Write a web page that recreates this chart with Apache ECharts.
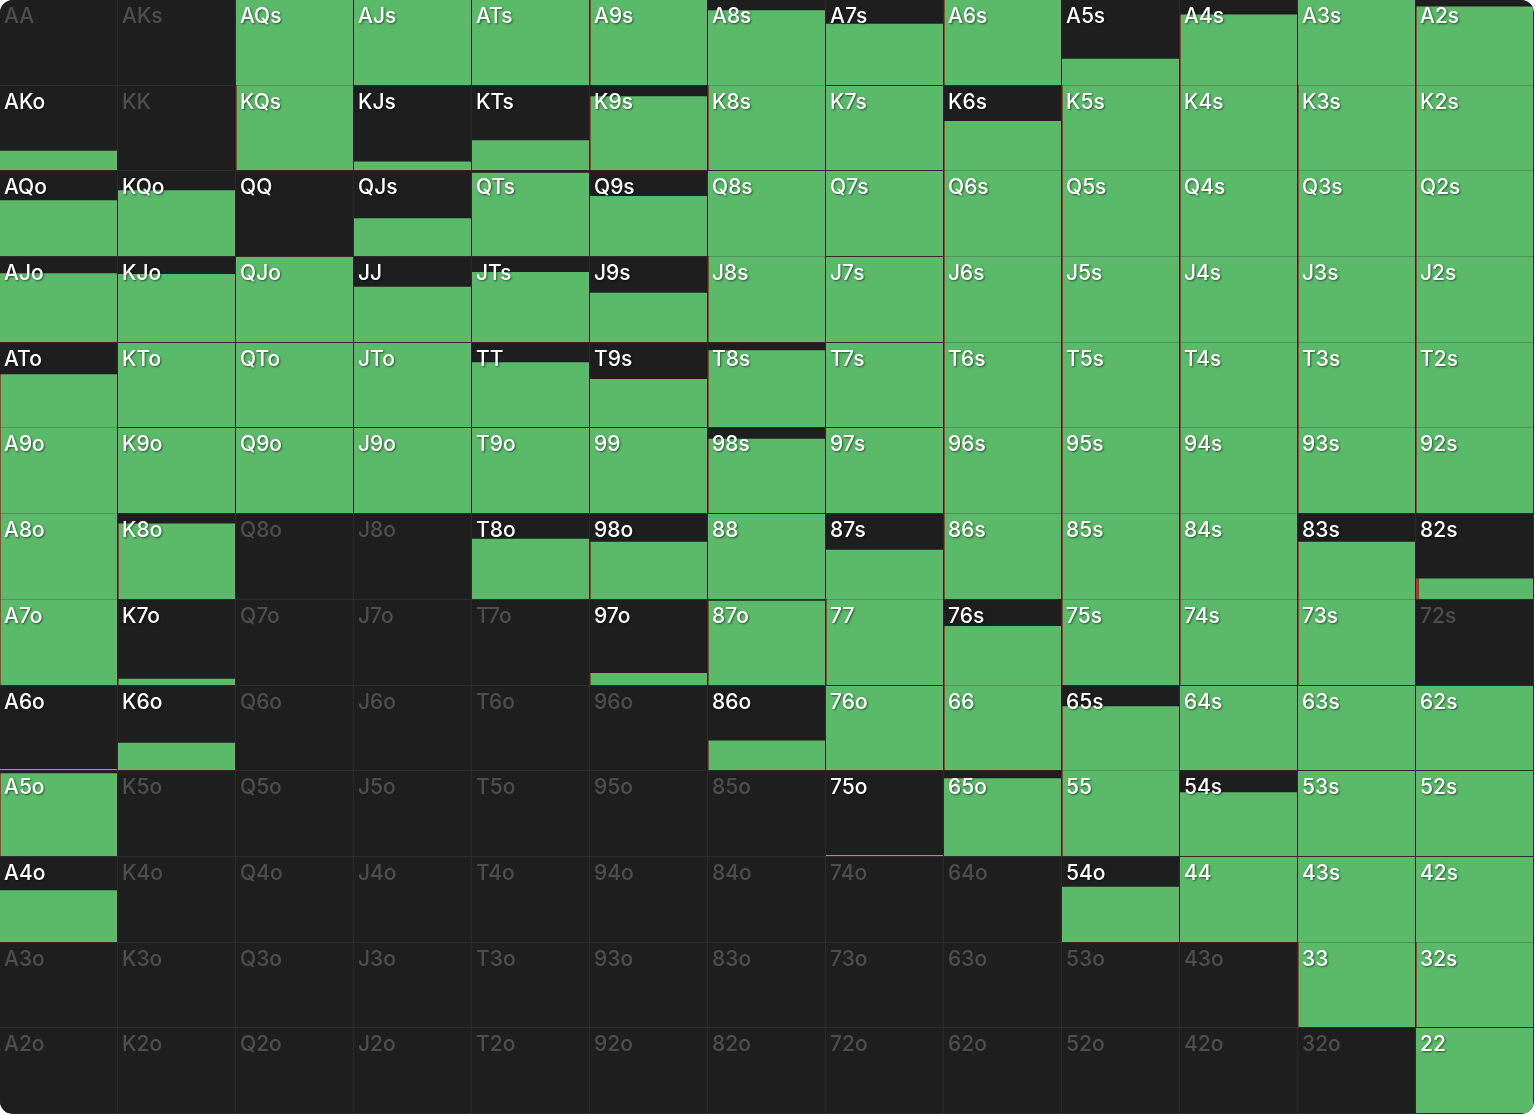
<!DOCTYPE html>
<html>
<head>
<meta charset="utf-8">
<script src="https://cdn.jsdelivr.net/npm/echarts@6/dist/echarts.min.js"></script>
<style>
  html, body { margin: 0; padding: 0; background: #ffffff; }
  #wrap { width: 1534px; height: 1114px; border-radius: 13px; overflow: hidden; background: #2a2a2a; }
  #chart { width: 1534px; height: 1114px; }
</style>
</head>
<body>
<div id="wrap"><div id="chart"></div></div>
<script>
// Rank order (rows and columns)
const ranks = ['A', 'K', 'Q', 'J', 'T', '9', '8', '7', '6', '5', '4', '3', '2'];

// Call (green) frequency per cell, row by row
const callRowA = [0, 0, 1, 1, 1, 1, 0.88, 0.72, 1, 0.31, 0.82, 1, 0.915];
const callRowK = [0.23, 0, 1, 0.10, 0.355, 0.87, 1, 1, 0.575, 1, 1, 1, 1];
const callRowQ = [0.655, 0.775, 0.002, 0.445, 0.98, 0.705, 1, 1, 1, 1, 1, 1, 1];
const callRowJ = [0.81, 0.80, 1, 0.65, 0.825, 0.58, 1, 1, 1, 1, 1, 1, 1];
const callRowT = [0.62, 1, 1, 1, 0.77, 0.57, 0.905, 1, 1, 1, 1, 1, 1];
const callRow9 = [1, 1, 1, 1, 1, 1, 0.865, 1, 1, 1, 1, 1, 1];
const callRow8 = [1, 0.88, 0, 0, 0.71, 0.665, 1, 0.578, 1, 1, 1, 0.665, 0.217];
const callRow7 = [1, 0.066, 0, 0, 0, 0.132, 0.984, 1, 0.686, 1, 1, 1, 0];
const callRow6 = [0.012, 0.324, 0, 0, 0, 0, 0.344, 1, 1, 0.75, 1, 1, 1];
const callRow5 = [0.967, 0, 0, 0, 0, 0, 0, 0.012, 0.915, 1, 0.75, 1, 1];
const callRow4 = [0.61, 0, 0, 0, 0, 0, 0, 0, 0, 0.65, 1, 1, 1];
const callRow3 = [0, 0, 0, 0, 0, 0, 0, 0, 0, 0, 0, 1, 1];
const callRow2 = [0, 0, 0, 0, 0, 0, 0, 0, 0, 0, 0, 0, 1];

// Raise (red) share of the filled part, row by row
const raiseRowA = [0, 0, 0, 0, 0, 0.008, 0, 0, 0.008, 0, 0.008, 0, 0.008];
const raiseRowK = [0, 0, 0.008, 0, 0, 0.008, 0.008, 0, 0.008, 0.008, 0.008, 0.008, 0.008];
const raiseRowQ = [0, 0, 0, 0, 0, 0, 0, 0, 0.008, 0.008, 0.008, 0.008, 0.008];
const raiseRowJ = [0, 0, 0, 0, 0, 0, 0.008, 0, 0.008, 0.008, 0.008, 0.008, 0.008];
const raiseRowT = [0.008, 0, 0, 0, 0, 0, 0.008, 0, 0.008, 0.008, 0.008, 0.008, 0.008];
const raiseRow9 = [0.008, 0, 0, 0, 0, 0, 0.008, 0, 0.008, 0.008, 0.008, 0.008, 0.008];
const raiseRow8 = [0.008, 0.008, 0, 0, 0, 0.008, 0, 0, 0.008, 0.008, 0.008, 0.008, 0.025];
const raiseRow7 = [0.008, 0.008, 0, 0, 0, 0.008, 0.008, 0.008, 0.008, 0.008, 0.008, 0.008, 0];
const raiseRow6 = [0, 0, 0, 0, 0, 0, 0.008, 0, 0.008, 0.008, 0, 0, 0];
const raiseRow5 = [0.008, 0, 0, 0, 0, 0, 0, 0, 0, 0.008, 0, 0, 0];
const raiseRow4 = [0, 0, 0, 0, 0, 0, 0, 0, 0, 0, 0, 0, 0];
const raiseRow3 = [0, 0, 0, 0, 0, 0, 0, 0, 0, 0, 0, 0.008, 0.008];
const raiseRow2 = [0, 0, 0, 0, 0, 0, 0, 0, 0, 0, 0, 0, 0];

const callFreq = [callRowA, callRowK, callRowQ, callRowJ, callRowT, callRow9, callRow8,
                  callRow7, callRow6, callRow5, callRow4, callRow3, callRow2];
const raiseFreq = [raiseRowA, raiseRowK, raiseRowQ, raiseRowJ, raiseRowT, raiseRow9, raiseRow8,
                   raiseRow7, raiseRow6, raiseRow5, raiseRow4, raiseRow3, raiseRow2];

function handLabel(r, c) {
  if (r === c) return ranks[r] + ranks[c];
  if (c > r) return ranks[r] + ranks[c] + 's';
  return ranks[c] + ranks[r] + 'o';
}

const data = [];
const labels = [];
for (let r = 0; r < 13; r++) {
  for (let c = 0; c < 13; c++) {
    data.push([c, r, callFreq[r][c], raiseFreq[r][c]]);
    labels.push(handLabel(r, c));
  }
}

const GREEN = '#5bb96a';
const DARK = '#1e1e1e';
const RED = '#b8322e';

const chart = echarts.init(document.getElementById('chart'), null, { renderer: 'canvas' });
chart.setOption({
  animation: false,
  backgroundColor: 'transparent',
  grid: { left: 0, right: 0, top: 0, bottom: 0 },
  xAxis: { type: 'value', min: 0, max: 13, show: false },
  yAxis: { type: 'value', min: 0, max: 13, inverse: true, show: false },
  series: [{
    type: 'custom',
    clip: false,
    data: data,
    renderItem: function (params, api) {
      const c = api.value(0), r = api.value(1);
      const call = api.value(2), raise = api.value(3);
      const p0 = api.coord([c, r]);
      const p1 = api.coord([c + 1, r + 1]);
      const x0 = Math.round(p0[0]), y0 = Math.round(p0[1]);
      const x1 = Math.round(p1[0]), y1 = Math.round(p1[1]);
      const w = x1 - x0 - 1, h = y1 - y0 - 1;
      const total = call + raise;
      const children = [{
        type: 'rect',
        shape: { x: x0, y: y0, width: w, height: h },
        style: { fill: DARK }
      }];
      if (total >= 0.005) {
        const fh = Math.max(1, total * h);
        const fy = y0 + h - fh;
        const rw = raise > 0 ? Math.max(1, raise * w) : 0;
        children.push({
          type: 'rect',
          shape: { x: x0 + rw, y: fy, width: w - rw, height: fh },
          style: { fill: GREEN }
        });
        if (rw > 0) {
          children.push({
            type: 'rect',
            shape: { x: x0, y: fy, width: rw, height: fh },
            style: { fill: RED }
          });
        }
      }
      const active = total > 0;
      children.push({
        type: 'text',
        x: x0 + 4,
        y: y0 + 6,
        style: {
          text: labels[params.dataIndex],
          fill: active ? '#ffffff' : '#4d4d4d',
          font: '500 21px Inter, "Noto Sans", sans-serif',
          textAlign: 'left',
          textVerticalAlign: 'top',
          textShadowColor: active ? 'rgba(0,0,0,0.55)' : 'transparent',
          textShadowBlur: active ? 2 : 0,
          textShadowOffsetX: 1,
          textShadowOffsetY: 1
        }
      });
      return { type: 'group', children: children };
    }
  }]
});
</script>
</body>
</html>
